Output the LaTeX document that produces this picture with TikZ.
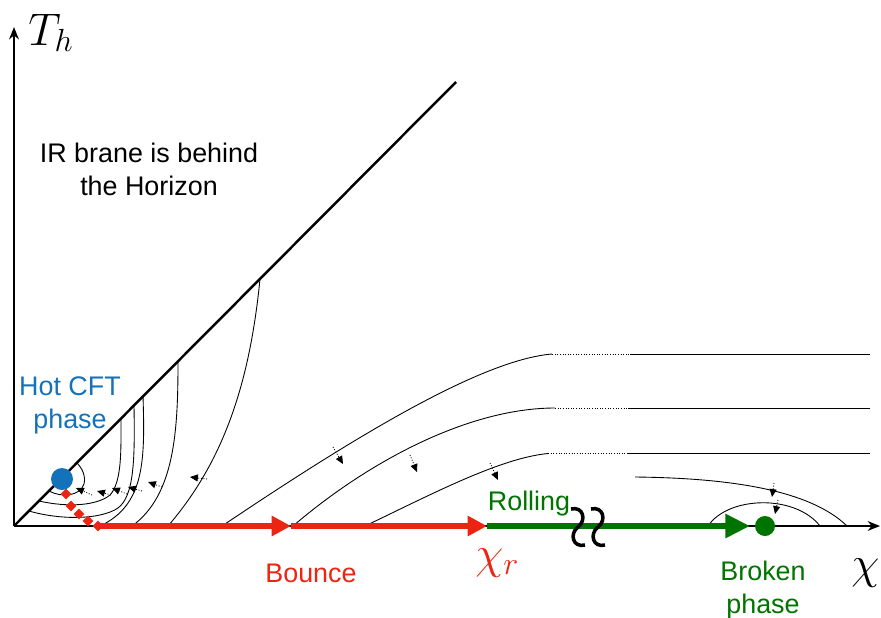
\documentclass[tikz,border=0pt]{standalone}
\usepackage{fix-cm}
\usepackage{fontspec}
\setmainfont{Liberation Sans}
\usepackage{tikz}
\usetikzlibrary{arrows.meta,positioning,shapes.geometric}
\definecolor{bouncered}{RGB}{236,36,18}
\definecolor{hotblue}{RGB}{20,114,186}
\definecolor{rollgreen}{RGB}{0,116,0}

\begin{document}
\begin{tikzpicture}[
  axis/.style={line width=1.2pt, -{Stealth[length=7pt,width=5.5pt]}},
  flow/.style={line width=0.5pt},
  kick/.style={densely dotted, line width=0.5pt, -{Triangle[length=4.5pt,width=4pt]}},
  bounce/.style={bouncered, line width=3.2pt},
  roll/.style={rollgreen, line width=3.4pt},
  dia/.style={diamond, fill=bouncered, inner sep=0pt, minimum size=2.2mm},
  txt/.style={font=\fontsize{15.3}{18.7}\selectfont, align=center, anchor=base, inner sep=0pt},
  big/.style={font=\fontsize{26}{30}\selectfont, anchor=base west, inner sep=0pt}
]
  \useasboundingbox (-0.28,-1.82) rectangle (17.34,10.52);

  \coordinate (O) at (0,0);
  \coordinate (yend) at (0,9.98);
  \coordinate (xend) at (17.32,0);
  \coordinate (hor) at (8.84,8.88);

  \draw[axis] (O) -- (yend);
  \draw[axis] (O) -- (xend);
  \draw[line width=1.4pt] (O) -- (hor);

  % flows near the hot phase
  \draw[flow] (0.70,0.70) .. controls (0.96,0.56) and (1.32,0.60) .. (1.40,0.84) .. controls (1.44,1.00) and (1.36,1.16) .. (1.26,1.26);
  \draw[flow] (0.50,0.50) .. controls (1.12,0.36) and (1.68,0.42) .. (1.92,0.62) .. controls (2.16,0.88) and (2.14,1.52) .. (2.14,2.14);
  \draw[flow] (0.30,0.30) .. controls (0.92,0.12) and (1.72,0.12) .. (2.08,0.36) .. controls (2.40,0.60) and (2.42,1.32) .. (2.40,2.40);
  \draw[flow] (2.58,2.60) .. controls (2.62,1.32) and (2.62,0.42) .. (1.72,0);
  \draw[flow] (3.28,3.30) .. controls (3.28,1.92) and (3.22,0.62) .. (2.36,0);
  \draw[flow] (4.92,4.94) .. controls (4.72,2.92) and (4.22,1.32) .. (3.08,0);

  \draw[kick] (1.56,0.62) -- (1.24,0.76);
  \draw[kick] (1.94,0.62) -- (1.66,0.70);
  \draw[kick] (2.26,0.64) -- (1.96,0.76);
  \draw[kick] (2.56,0.70) -- (2.28,0.78);
  \draw[kick] (2.96,0.78) -- (2.68,0.88);
  \draw[kick] (3.86,0.94) -- (3.52,0.98);

  % flows towards the broken phase
  \draw[flow] (4.16,0) .. controls (6.72,1.72) and (9.32,3.32) .. (10.76,3.44);
  \draw[flow, densely dotted] (10.76,3.44) -- (12.32,3.44);
  \draw[flow] (12.32,3.44) -- (17.12,3.44);
  \draw[flow] (5.58,0) .. controls (7.12,1.32) and (9.12,2.36) .. (10.82,2.36);
  \draw[flow, densely dotted] (10.82,2.36) -- (12.28,2.36);
  \draw[flow] (12.28,2.36) -- (17.12,2.36);
  \draw[flow] (7.02,0) .. controls (8.32,0.62) and (9.72,1.36) .. (10.68,1.45);
  \draw[flow, densely dotted] (10.68,1.45) -- (12.28,1.45);
  \draw[flow] (12.28,1.45) -- (17.12,1.45);
  \draw[flow] (12.42,0.98) .. controls (14.32,0.96) and (15.92,0.72) .. (16.66,0);
  \draw[flow] (13.88,0) .. controls (14.28,0.60) and (15.62,0.64) .. (16.12,0);

  \draw[kick] (6.38,1.58) -- (6.58,1.24);
  \draw[kick] (7.92,1.42) -- (8.06,1.08);
  \draw[kick] (9.52,1.26) -- (9.68,0.92);
  \draw[kick] (15.20,0.86) -- (15.16,0.58);
  \draw[kick] (15.28,0.52) -- (15.22,0.24);

  % bounce and rolling
  \coordinate (b0) at (1.68,0);
  \coordinate (b1) at (5.54,0);
  \coordinate (b2) at (9.46,0);
  \coordinate (g1) at (14.72,0);
  \draw[bounce, -{Triangle[length=11pt,width=11pt]}] (b0) -- (b1);
  \draw[bounce, -{Triangle[length=11pt,width=11pt]}] (b1) -- (b2);
  \draw[roll, -{Triangle[length=14pt,width=13pt]}] (b2) -- (g1);

  \foreach \p [count=\i] in {(1.04,0.64),(1.14,0.40),(1.30,0.24),(1.48,0.10),(1.68,0)}
    \node[dia] (sep\i) at \p {};

  \foreach \sx in {11.28,11.68}
    \draw[line width=2pt, shift={(\sx,-0.02)}] (-0.14,0.36) .. controls (0.10,0.42) and (0.18,0.14) .. (0,0) .. controls (-0.18,-0.14) and (-0.10,-0.42) .. (0.14,-0.36);

  \node[circle, fill=hotblue, minimum size=0.44cm, inner sep=0pt] (hot) at (0.96,0.94) {};
  \node[circle, fill=rollgreen, minimum size=0.4cm, inner sep=0pt] (brk) at (15.02,0) {};

  % labels
  \node[big] (Th) at (0.28,9.62) {$T_h$};
  \node[big] (chi) at (16.74,-1.04) {$\chi$};
  \node[big, bouncered] (chir) at (9.22,-0.84) {$\chi_r$};
  \node[txt] (ir) at (2.70,6.62) {IR brane is behind\\the Horizon};
  \node[txt, hotblue] (hotlbl) at (1.12,1.96) {Hot CFT\\phase};
  \node[txt, bouncered] (bouncelbl) at (5.94,-1.12) {Bounce};
  \node[txt, rollgreen] (rolllbl) at (10.30,0.32) {Rolling};
  \node[txt, rollgreen] (brklbl) at (14.98,-1.74) {Broken\\phase};
\end{tikzpicture}
\end{document}
